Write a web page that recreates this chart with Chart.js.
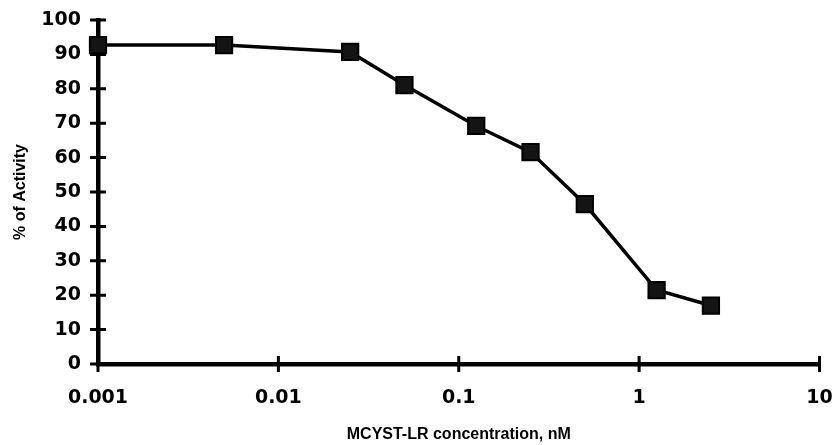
<!DOCTYPE html>
<html>
<head>
<meta charset="utf-8">
<script src="https://cdn.jsdelivr.net/npm/chart.js@4"></script>
<style>
  html, body { margin: 0; padding: 0; background: #fff; overflow: hidden; }
  #wrap { width: 833px; height: 445px; position: relative; }
  canvas { display: block; }
</style>
</head>
<body>
<div id="wrap"><canvas id="activityChart"></canvas></div>
<script>
// values
const concentrations = [0.001, 0.005, 0.025, 0.05, 0.125, 0.25, 0.5, 1.25, 2.5];
const activity = [92.7, 92.7, 90.7, 81.1, 69.2, 61.6, 46.5, 21.5, 17];
const xTicks = [0.001, 0.01, 0.1, 1, 10];
const xTickLabels = ['0.001', '0.01', '0.1', '1', '10'];
const yTicks = [0, 10, 20, 30, 40, 50, 60, 70, 80, 90, 100];

const tickFont = { family: 'DejaVu Sans', weight: 'bold', size: 19 };

// tick marks that cross the axis line, like the original
const crossTicks = {
    id: 'crossTicks',
    afterDraw(chart) {
        const { ctx, scales: { x, y } } = chart;
        ctx.save();
        ctx.strokeStyle = '#000';
        ctx.lineWidth = 3;
        ctx.beginPath();
        yTicks.forEach(v => {
            const py = y.getPixelForValue(v);
            ctx.moveTo(x.left - 8, py);
            ctx.lineTo(x.left + 8, py);
        });
        xTicks.forEach(v => {
            const px = x.getPixelForValue(v);
            ctx.moveTo(px, y.bottom - 8);
            ctx.lineTo(px, y.bottom + 8);
        });
        ctx.stroke();
        ctx.restore();
    }
};

const ctx = document.getElementById('activityChart').getContext('2d');

new Chart(ctx, {
    type: 'line',
    data: {
        datasets: [{
            label: '% of Activity',
            data: concentrations.map((c, i) => ({ x: c, y: activity[i] })),
            borderColor: '#000',
            borderWidth: 3.5,
            backgroundColor: '#141414',
            pointStyle: 'rect',
            pointRadius: 11.5,
            pointBorderColor: '#000',
            pointBorderWidth: 2,
            tension: 0,
            fill: false,
            clip: false
        }]
    },
    options: {
        responsive: true,
        maintainAspectRatio: false,
        animation: false,
        layout: { padding: { top: 20, right: 10, left: 0, bottom: 0 } },
        plugins: { legend: { display: false }, tooltip: { enabled: false } },
        scales: {
            x: {
                type: 'logarithmic',
                min: 0.001,
                max: 10,
                afterBuildTicks: s => { s.ticks = xTicks.map(v => ({ value: v })); },
                afterFit: s => { s.height = 81; s.paddingLeft = 0; s.paddingRight = 0; },
                ticks: {
                    color: '#000',
                    font: tickFont,
                    padding: 23,
                    maxRotation: 0,
                    autoSkip: false,
                    callback: (v, i) => xTickLabels[i]
                },
                grid: { display: true, drawOnChartArea: false, drawTicks: false },
                border: { color: '#000', width: 4.5 },
                title: {
                    display: true,
                    text: 'MCYST-LR concentration, nM',
                    color: '#000',
                    font: { family: 'Liberation Sans', weight: 'bold', size: 16 },
                    padding: { top: 0, bottom: 1 }
                }
            },
            y: {
                min: 0,
                max: 100,
                afterBuildTicks: s => { s.ticks = yTicks.map(v => ({ value: v })); },
                afterFit: s => { s.width = 98; s.paddingTop = 0; s.paddingBottom = 0; },
                ticks: { color: '#000', font: tickFont, padding: 17 },
                grid: { display: true, drawOnChartArea: false, drawTicks: false },
                border: { color: '#000', width: 4.5 },
                title: {
                    display: true,
                    text: '% of Activity',
                    color: '#000',
                    font: { family: 'Liberation Sans', weight: 'bold', size: 16 },
                    padding: { top: 11, bottom: 0 }
                }
            }
        }
    },
    plugins: [crossTicks]
});
</script>
</body>
</html>
